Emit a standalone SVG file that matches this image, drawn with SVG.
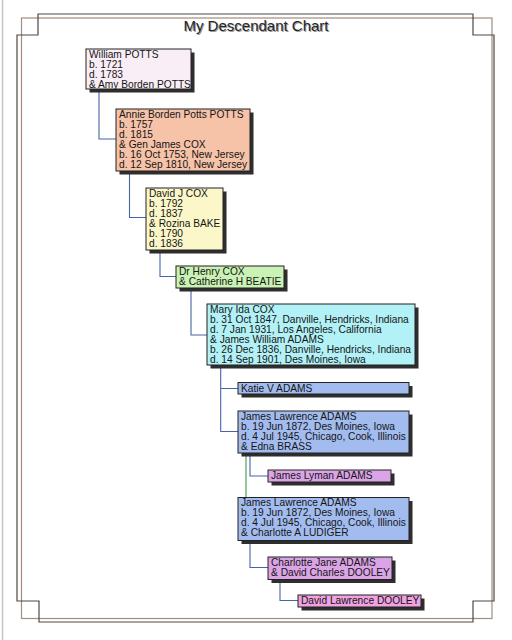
<svg xmlns="http://www.w3.org/2000/svg" width="512" height="640" viewBox="0 0 512 640">
<defs>
<style>
.t{font-family:"Liberation Sans",Arial,sans-serif;font-size:10.2px;fill:#151515}
.box{stroke:#222;stroke-width:1}
.sh{fill:#2e2e2e;filter:url(#blur)}
.c{fill:none;stroke:#4563a8;stroke-width:1.1}
.g{fill:none;stroke:#3a9a48;stroke-width:1.1}
.title{font-family:"Liberation Sans",Arial,sans-serif;font-size:15px;text-anchor:middle}
</style>
<filter id="blur" x="-10%" y="-10%" width="120%" height="130%"><feGaussianBlur stdDeviation="0.6"/></filter>
</defs>
<rect width="512" height="640" fill="#fff"/>
<line x1="2.5" y1="0" x2="2.5" y2="640" stroke="#c4c4c4" stroke-width="1.5"/>
<g id="frame">
<rect x="21.5" y="18" width="470.5" height="600.5" fill="none" stroke="#a58c7c" stroke-width="1.2"/>
<polygon points="38,14 473,14 473,35 494,35 494,601 473,601 473,622 39,622 39,601 17,601 17,35 38,35" fill="none" stroke="#4a4a4a" stroke-width="1.2"/>
</g>
<g id="title">
<text class="title" x="257" y="32" fill="#9a9a9a">My Descendant Chart</text>
<text class="title" x="256" y="31" fill="#262626">My Descendant Chart</text>
</g>
<g id="connectors">
<path class="c" d="M99 89 V139 H116"/>
<path class="c" d="M129.5 171 V217.5 H146"/>
<path class="c" d="M160 250 V276.5 H176"/>
<path class="c" d="M191 288 V335 H207"/>
<path class="c" d="M220.7 365 V431.5 H238 M220.7 388.5 H238"/>
<path class="c" d="M250 453 V476 H268"/>
<path class="g" d="M246 453 V497.5"/>
<path class="c" d="M250 540.5 V567.5 H268"/>
<path class="c" d="M280 579.5 V600.5 H298"/>
</g>
<g id="n1">
<rect class="sh" x="89.5" y="52.5" width="105" height="40"/>
<rect class="box" x="86" y="49" width="105" height="40" fill="#f9eef5"/>
<text class="t" x="89" y="57.5">William POTTS</text>
<text class="t" x="89" y="67.5">b. 1721</text>
<text class="t" x="89" y="77.5">d. 1783</text>
<text class="t" x="89" y="87.5">&amp; Amy Borden POTTS</text>
</g>
<g id="n2">
<rect class="sh" x="119.5" y="112.5" width="134" height="62"/>
<rect class="box" x="116" y="109" width="134" height="62" fill="#f6c2a8"/>
<text class="t" x="119" y="117.5">Annie Borden Potts POTTS</text>
<text class="t" x="119" y="127.5">b. 1757</text>
<text class="t" x="119" y="137.5">d. 1815</text>
<text class="t" x="119" y="147.5">&amp; Gen James COX</text>
<text class="t" x="119" y="157.5">b. 16 Oct 1753, New Jersey</text>
<text class="t" x="119" y="167.5">d. 12 Sep 1810, New Jersey</text>
</g>
<g id="n3">
<rect class="sh" x="149.5" y="191.5" width="77" height="62"/>
<rect class="box" x="146" y="188" width="77" height="62" fill="#fbf7c9"/>
<text class="t" x="149" y="196.5">David J COX</text>
<text class="t" x="149" y="206.5">b. 1792</text>
<text class="t" x="149" y="216.5">d. 1837</text>
<text class="t" x="149" y="226.5">&amp; Rozina BAKE</text>
<text class="t" x="149" y="236.5">b. 1790</text>
<text class="t" x="149" y="246.5">d. 1836</text>
</g>
<g id="n4">
<rect class="sh" x="179.5" y="269.5" width="108" height="22"/>
<rect class="box" x="176" y="266" width="108" height="22" fill="#c9f2b4"/>
<text class="t" x="179" y="274.5">Dr Henry COX</text>
<text class="t" x="179" y="284.5">&amp; Catherine H BEATIE</text>
</g>
<g id="n5">
<rect class="sh" x="210.5" y="307.5" width="208" height="61"/>
<rect class="box" x="207" y="304" width="208" height="61" fill="#b2f1f6"/>
<text class="t" x="210" y="312.5">Mary Ida COX</text>
<text class="t" x="210" y="322.5">b. 31 Oct 1847, Danville, Hendricks, Indiana</text>
<text class="t" x="210" y="332.5">d. 7 Jan 1931, Los Angeles, California</text>
<text class="t" x="210" y="342.5">&amp; James William ADAMS</text>
<text class="t" x="210" y="352.5">b. 26 Dec 1836, Danville, Hendricks, Indiana</text>
<text class="t" x="210" y="362.5">d. 14 Sep 1901, Des Moines, Iowa</text>
</g>
<g id="n6">
<rect class="sh" x="241.5" y="386" width="171" height="11.5"/>
<rect class="box" x="238" y="382.5" width="171" height="11.5" fill="#a3bcef"/>
<text class="t" x="241" y="391.5">Katie V ADAMS</text>
</g>
<g id="n7">
<rect class="sh" x="241.5" y="414.5" width="171" height="42"/>
<rect class="box" x="238" y="411" width="171" height="42" fill="#a3bcef"/>
<text class="t" x="241" y="419.5">James Lawrence ADAMS</text>
<text class="t" x="241" y="429.5">b. 19 Jun 1872, Des Moines, Iowa</text>
<text class="t" x="241" y="439.5">d. 4 Jul 1945, Chicago, Cook, Illinois</text>
<text class="t" x="241" y="449.5">&amp; Edna BRASS</text>
</g>
<g id="n8">
<rect class="sh" x="271.5" y="473.5" width="123" height="12"/>
<rect class="box" x="268" y="470" width="123" height="12" fill="#dba4e6"/>
<text class="t" x="271" y="479">James Lyman ADAMS</text>
</g>
<g id="n9">
<rect class="sh" x="241.5" y="501" width="171" height="43"/>
<rect class="box" x="238" y="497.5" width="171" height="43" fill="#a3bcef"/>
<text class="t" x="241" y="506">James Lawrence ADAMS</text>
<text class="t" x="241" y="516">b. 19 Jun 1872, Des Moines, Iowa</text>
<text class="t" x="241" y="526">d. 4 Jul 1945, Chicago, Cook, Illinois</text>
<text class="t" x="241" y="536">&amp; Charlotte A LUDIGER</text>
</g>
<g id="n10">
<rect class="sh" x="271.5" y="560.5" width="124" height="22.5"/>
<rect class="box" x="268" y="557" width="124" height="22.5" fill="#dba4e6"/>
<text class="t" x="271" y="565.5">Charlotte Jane ADAMS</text>
<text class="t" x="271" y="575.5">&amp; David Charles DOOLEY</text>
</g>
<g id="n11">
<rect class="sh" x="301.5" y="598.5" width="123" height="12"/>
<rect class="box" x="298" y="595" width="123" height="12" fill="#f0a2e2"/>
<text class="t" x="301" y="604">David Lawrence DOOLEY</text>
</g>
</svg>
